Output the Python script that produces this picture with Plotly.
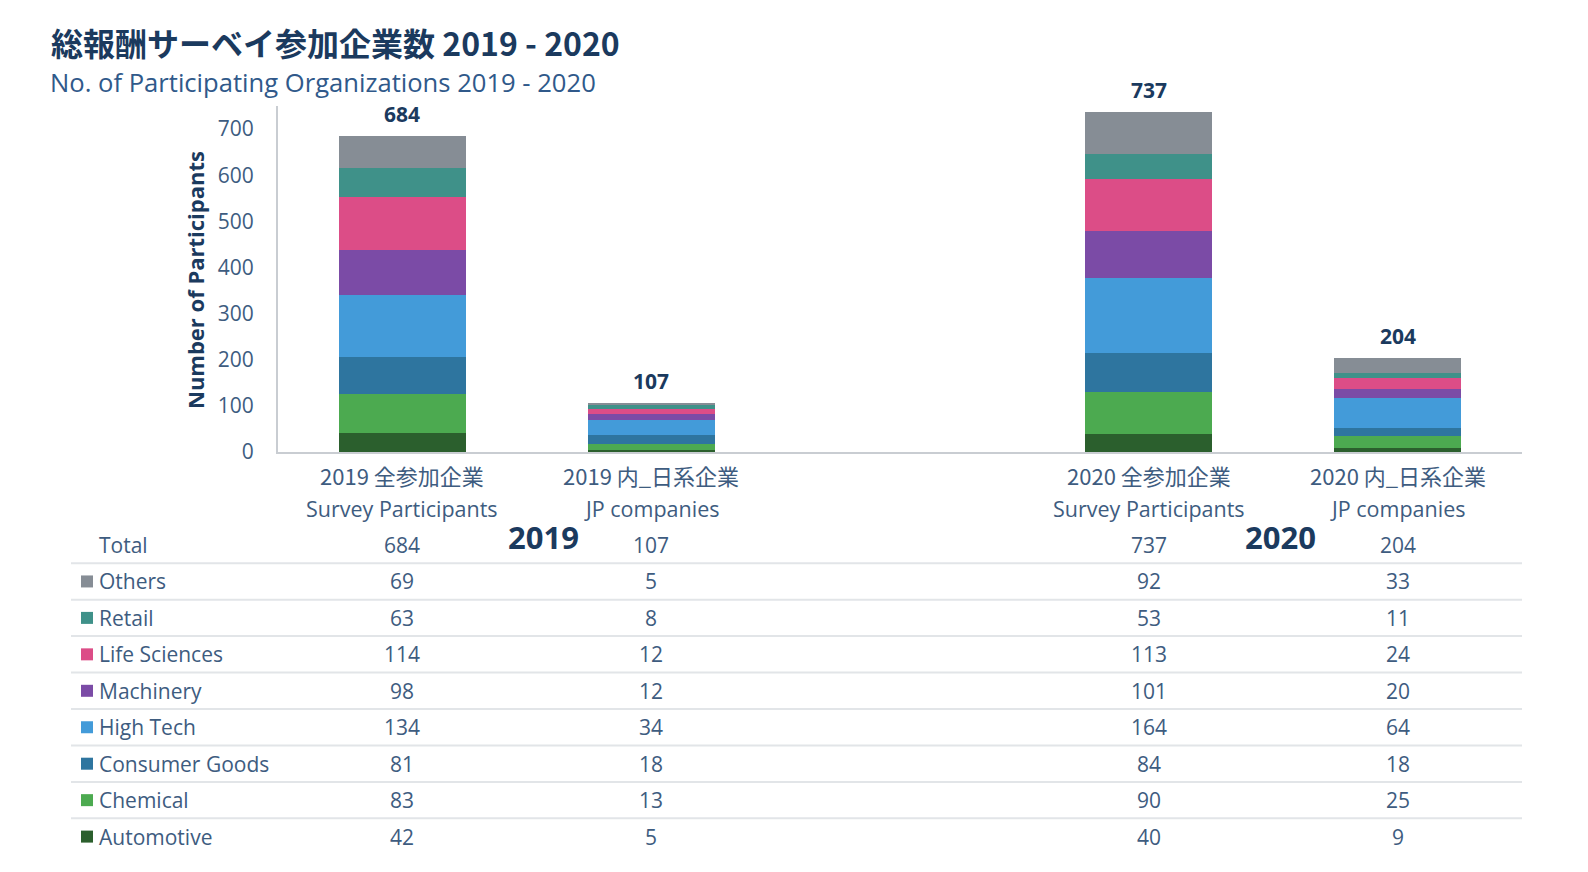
import plotly.graph_objects as go

# ---------------- data ----------------
bar_categories = ["2019 全参加企業", "2019 内_日系企業", "2020 全参加企業", "2020 内_日系企業"]
bar_subtitles = ["Survey Participants", "JP companies", "Survey Participants", "JP companies"]
industries = ["Others", "Retail", "Life Sciences", "Machinery", "High Tech",
              "Consumer Goods", "Chemical", "Automotive"]
v2019_all = [69, 63, 114, 98, 134, 81, 83, 42]
v2019_jp = [5, 8, 12, 12, 34, 18, 13, 5]
v2020_all = [92, 53, 113, 101, 164, 84, 90, 40]
v2020_jp = [33, 11, 24, 20, 64, 18, 25, 9]
totals = [684, 107, 737, 204]
year_labels = ["2019", "2020"]
y_ticks = [0, 100, 200, 300, 400, 500, 600, 700]

# ---------------- styles ----------------
colors = {
    "Others": "#868d95",
    "Retail": "#3f9189",
    "Life Sciences": "#dc4d87",
    "Machinery": "#7b4ba6",
    "High Tech": "#439bd9",
    "Consumer Goods": "#2e759f",
    "Chemical": "#4caa50",
    "Automotive": "#2b5f2d",
}
NAVY = "#1b3a5e"
TXT = "#3e5c7f"
FONT = "Open Sans, Noto Sans CJK JP, sans-serif"
JPFONT = "Noto Sans CJK JP, Open Sans, sans-serif"

# page is 1588x872 with an 8px body margin around the figure
OFF = 8
FW, FH = 1588 - 2 * OFF, 872 - 2 * OFF
# plot area in page pixels
PX_L, PX_R, PX_T, PX_B = 278, 1522, 106, 452
L, R, T, B = PX_L - OFF, FW - (PX_R - OFF), PX_T - OFF, FH - (PX_B - OFF)
PW, PH = FW - L - R, FH - T - B


def px2x(px):
    return (px - OFF - L) / PW


def px2y(py):
    return (FH - B - (py - OFF)) / PH


spacer = " "
cat_order = [bar_categories[0], bar_categories[1], spacer, bar_categories[2], bar_categories[3]]

series = {ind: [v2019_all[i], v2019_jp[i], v2020_all[i], v2020_jp[i]] for i, ind in enumerate(industries)}

fig = go.Figure()
for ind in reversed(industries):
    fig.add_trace(go.Bar(
        x=bar_categories, y=series[ind], name=ind,
        marker=dict(color=colors[ind], line=dict(width=0)),
        hovertemplate="%{x}<br>" + ind + ": %{y}<extra></extra>",
    ))

annotations = []
shapes = []

# totals above bars
for cat, tot in zip(bar_categories, totals):
    annotations.append(dict(x=cat, y=tot, xref="x", yref="y", text=f"<b>{tot}</b>",
                            showarrow=False, xanchor="center", yanchor="middle", yshift=22,
                            borderpad=0,
                            font=dict(family=FONT, size=21, color=NAVY)))

# category labels (two lines)
for cat, sub in zip(bar_categories, bar_subtitles):
    annotations.append(dict(x=cat, y=px2y(475), xref="x", yref="paper", text=cat,
                            showarrow=False, xanchor="center", yanchor="middle",
                            font=dict(family=JPFONT, size=22, color=TXT)))
    annotations.append(dict(x=cat, y=px2y(508), xref="x", yref="paper", text=sub,
                            showarrow=False, xanchor="center", yanchor="middle",
                            font=dict(family=FONT, size=21.5, color=TXT)))

# y-axis title
annotations.append(dict(x=px2x(195), y=px2y(280), xref="paper", yref="paper",
                        text="<b>Number of Participants</b>", textangle=-90,
                        showarrow=False, xanchor="center", yanchor="middle",
                        font=dict(family=FONT, size=22, color=NAVY)))

# title and subtitle
annotations.append(dict(x=px2x(49), y=px2y(42), xref="paper", yref="paper",
                        text="<b>総報酬サーベイ参加企業数 2019 - 2020</b>",
                        showarrow=False, xanchor="left", yanchor="middle",
                        font=dict(family=JPFONT, size=32, color=NAVY)))
annotations.append(dict(x=px2x(49), y=px2y(83), xref="paper", yref="paper",
                        text="No. of Participating Organizations 2019 - 2020",
                        showarrow=False, xanchor="left", yanchor="middle", borderpad=0,
                        font=dict(family=FONT, size=25.6, color="#30598a")))

# table
row_y0 = 545
row_step = 36.45
annotations.append(dict(x=px2x(97), y=px2y(row_y0), xref="paper", yref="paper", text="Total",
                        showarrow=False, xanchor="left", yanchor="middle",
                        font=dict(family=FONT, size=21, color=TXT)))
for cat, tot in zip(bar_categories, totals):
    annotations.append(dict(x=cat, y=px2y(row_y0), xref="x", yref="paper", text=str(tot),
                            showarrow=False, xanchor="center", yanchor="middle",
                            font=dict(family=FONT, size=21, color=TXT)))
for yl, cx in zip(year_labels, [543, 1280]):
    annotations.append(dict(x=px2x(cx), y=px2y(537), xref="paper", yref="paper",
                            text=f"<b>{yl}</b>", showarrow=False,
                            xanchor="center", yanchor="middle",
                            font=dict(family=FONT, size=31, color=NAVY)))

for r, ind in enumerate(industries):
    yc = row_y0 + row_step * (r + 1)
    annotations.append(dict(x=px2x(97), y=px2y(yc), xref="paper", yref="paper", text=ind,
                            showarrow=False, xanchor="left", yanchor="middle",
                            font=dict(family=FONT, size=21, color=TXT)))
    shapes.append(dict(type="rect", xref="paper", yref="paper",
                       x0=px2x(81), x1=px2x(93), y0=px2y(yc - 6), y1=px2y(yc + 6),
                       fillcolor=colors[ind], line=dict(width=0)))
    for ci, cat in enumerate(bar_categories):
        annotations.append(dict(x=cat, y=px2y(yc), xref="x", yref="paper",
                                text=str(series[ind][ci]),
                                showarrow=False, xanchor="center", yanchor="middle",
                                font=dict(family=FONT, size=21, color=TXT)))

for k in range(len(industries)):
    ly = row_y0 + 18.2 + row_step * k
    shapes.append(dict(type="line", xref="paper", yref="paper",
                       x0=px2x(71), x1=px2x(1522), y0=px2y(ly), y1=px2y(ly),
                       line=dict(color="#e2e5e8", width=2)))

fig.update_layout(
    width=FW, height=FH,
    margin=dict(l=L, r=R, t=T, b=B),
    barmode="stack", bargap=0.49,
    showlegend=False,
    plot_bgcolor="white", paper_bgcolor="white",
    font=dict(family=FONT, color=TXT),
    xaxis=dict(type="category", categoryorder="array", categoryarray=cat_order,
               showticklabels=False, ticks="", showgrid=False, zeroline=False,
               showline=True, linecolor="#c9cdd2", linewidth=2, fixedrange=True),
    yaxis=dict(range=[0, 750], tickvals=y_ticks, showgrid=False, zeroline=False,
               showline=True, linecolor="#c9cdd2", linewidth=2, ticks="",
               ticklabelstandoff=18,
               tickfont=dict(family=FONT, size=21, color=TXT), fixedrange=True),
    annotations=annotations,
    shapes=shapes,
)

fig.write_html("out.html")
